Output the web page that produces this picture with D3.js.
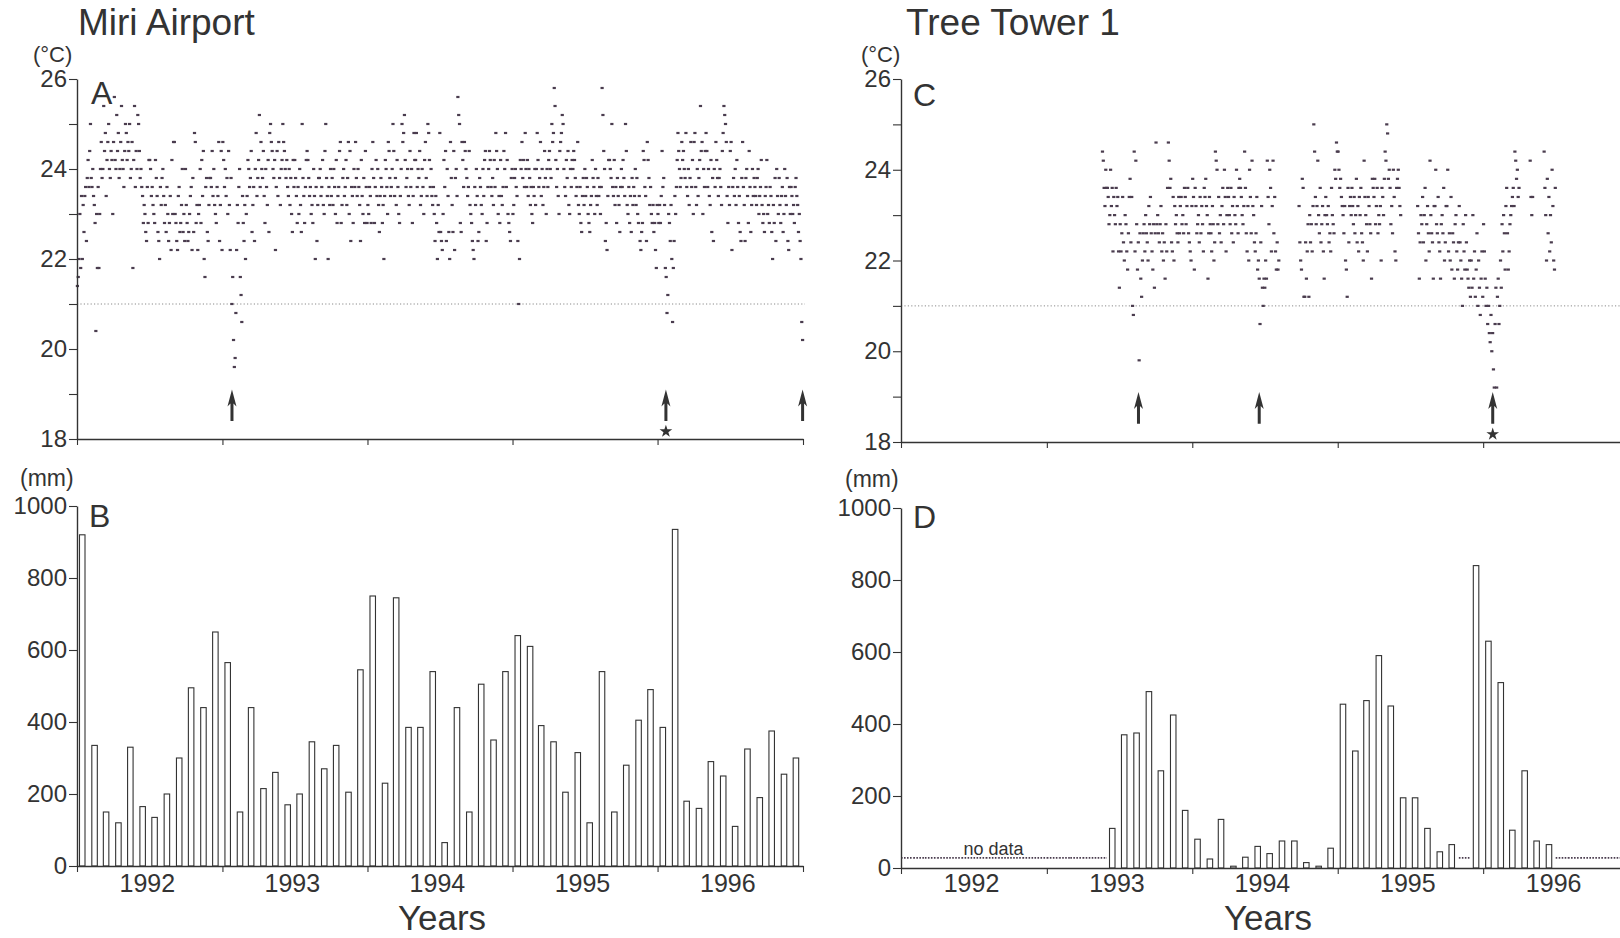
<!DOCTYPE html>
<html>
<head>
<meta charset="utf-8">
<script src="https://cdn.jsdelivr.net/npm/d3@7"></script>
<style>
  body { margin: 0; background: #ffffff; }
</style>
</head>
<body>
<script>
// COLORS and FONTS
var font = "'Liberation Sans', Arial, Helvetica, sans-serif";
var ink = "#333333";
var dotInk = "#4a3c4e";

// MIRI AIRPORT daily temperature, one list per month (every second day)
var airportTemp1992 = [
  [21.4, 21.6, 22.0, 23.0, 21.8, 23.4, 22.0, 23.2, 22.6, 23.4, 23.6, 22.4, 23.8, 24.2, 23.6],
  [24.4, 25.0, 23.8, 23.6, 24.0, 23.4, 23.2, 22.8, 20.4, 23.0, 21.8, 23.6, 21.8, 23.0, 24.0],
  [24.6, 23.8, 24.0, 25.4, 24.4, 24.8, 23.4, 24.2, 24.6, 25.0, 24.0, 23.8, 24.4, 24.2, 23.0],
  [24.6, 25.6, 24.2, 24.0, 25.2, 24.4, 24.8, 23.8, 24.0, 24.6, 25.4, 24.2, 24.0, 23.6, 24.4],
  [25.0, 24.8, 24.2, 24.6, 24.4, 25.0, 23.8, 24.0, 24.6, 21.8, 24.2, 25.4, 23.6, 24.4, 24.0],
  [25.2, 25.0, 24.4, 23.8, 24.0, 23.6, 23.4, 22.8, 23.2, 23.0, 22.6, 22.4, 23.6, 22.8, 24.2],
  [24.2, 24.0, 23.4, 23.6, 23.2, 23.0, 22.8, 24.2, 23.8, 23.4, 22.6, 22.4, 22.0, 23.6, 23.2],
  [23.8, 24.0, 23.4, 22.8, 23.2, 22.6, 23.6, 23.0, 22.4, 22.8, 23.4, 22.2, 24.2, 23.0, 24.6],
  [24.6, 23.0, 22.8, 22.4, 22.2, 23.4, 23.6, 22.6, 22.8, 23.2, 24.0, 22.6, 23.0, 22.4, 24.0],
  [23.2, 22.8, 22.4, 22.6, 23.0, 23.4, 23.6, 22.2, 23.8, 22.6, 24.8, 24.6, 22.8, 23.2, 22.2],
  [23.0, 23.2, 24.0, 22.8, 24.2, 23.4, 24.4, 22.0, 21.6, 23.6, 23.8, 22.6, 22.4, 23.2, 23.8],
  [23.8, 23.6, 24.4, 23.4, 24.0, 23.2, 23.0, 22.8, 23.6, 23.4, 24.6, 22.4, 23.2, 24.4, 22.2]
];
var airportTemp1993 = [
  [24.6, 24.2, 23.6, 24.0, 23.4, 23.8, 23.0, 24.4, 23.2, 22.2, 23.8, 21.0, 21.6, 20.2, 19.6],
  [19.8, 20.8, 22.2, 23.2, 22.8, 23.6, 24.0, 21.6, 21.2, 20.6, 23.4, 22.8, 22.4, 23.2, 22.0],
  [23.0, 23.4, 24.2, 24.0, 23.6, 23.8, 24.4, 22.6, 23.2, 23.6, 22.4, 24.0, 24.8, 23.4, 23.8],
  [24.2, 25.2, 23.6, 24.6, 24.0, 23.8, 24.4, 23.4, 22.8, 24.0, 23.6, 23.2, 24.2, 22.6, 24.8],
  [25.0, 24.6, 24.4, 24.0, 23.8, 24.2, 22.2, 23.6, 24.4, 23.4, 24.6, 23.8, 23.2, 24.0, 24.2],
  [25.0, 24.6, 24.4, 24.0, 23.8, 24.2, 23.6, 23.4, 24.0, 23.2, 23.8, 23.0, 22.6, 24.2, 23.6],
  [24.2, 23.8, 23.4, 22.8, 23.6, 23.0, 24.0, 23.2, 22.6, 25.0, 23.8, 23.4, 22.8, 23.6, 24.2],
  [24.4, 24.2, 23.8, 23.4, 23.6, 23.0, 23.2, 22.8, 24.0, 23.4, 22.0, 23.6, 22.4, 23.2, 23.8],
  [23.8, 24.0, 23.4, 23.6, 24.2, 23.2, 23.0, 24.4, 25.0, 23.8, 23.4, 22.0, 23.6, 23.2, 24.0],
  [23.4, 23.8, 23.2, 24.0, 23.6, 23.0, 24.2, 22.8, 23.4, 23.6, 24.4, 24.6, 22.8, 23.2, 23.8],
  [24.0, 23.4, 23.6, 24.2, 23.2, 23.8, 24.6, 23.0, 24.4, 22.4, 23.6, 23.4, 22.8, 24.0, 23.6],
  [24.6, 23.8, 23.4, 24.0, 23.6, 23.2, 22.4, 24.2, 23.4, 23.0, 23.8, 22.8, 24.4, 23.6, 22.8]
];
var airportTemp1994 = [
  [23.2, 23.0, 23.6, 23.4, 22.8, 24.0, 24.6, 23.8, 22.8, 23.6, 24.2, 23.4, 24.0, 23.2, 22.6],
  [23.4, 23.8, 23.6, 22.8, 23.2, 22.0, 23.4, 24.2, 24.0, 23.6, 23.0, 24.6, 24.4, 23.8, 23.4],
  [23.6, 24.0, 25.0, 24.4, 23.4, 23.8, 23.2, 24.2, 23.6, 23.0, 22.8, 23.4, 24.0, 25.0, 24.6],
  [24.8, 25.2, 24.2, 23.6, 23.8, 24.0, 23.4, 23.2, 24.4, 23.6, 24.0, 22.8, 23.4, 24.8, 24.2],
  [24.2, 24.8, 23.6, 24.0, 23.8, 24.4, 23.2, 23.4, 24.0, 23.6, 23.0, 24.2, 24.6, 23.8, 23.4],
  [25.0, 24.8, 24.2, 23.6, 24.0, 23.4, 23.2, 23.6, 23.0, 22.4, 23.4, 22.8, 22.0, 23.2, 22.6],
  [24.8, 22.6, 22.4, 22.2, 23.0, 24.2, 23.6, 24.4, 22.4, 24.0, 23.4, 22.6, 22.0, 24.6, 23.8],
  [23.2, 22.6, 24.4, 22.2, 23.8, 24.0, 23.4, 25.6, 25.2, 25.0, 22.8, 22.6, 24.6, 24.2, 23.6],
  [24.6, 24.4, 24.0, 23.8, 23.4, 23.6, 24.4, 23.2, 23.0, 22.8, 22.4, 22.2, 22.0, 23.6, 23.2],
  [24.0, 23.4, 22.4, 22.6, 23.8, 23.6, 23.2, 23.0, 24.0, 23.4, 24.2, 24.4, 22.4, 22.8, 23.6],
  [24.0, 24.4, 24.2, 23.6, 23.4, 23.8, 23.2, 24.2, 23.6, 24.8, 24.4, 24.0, 23.0, 23.4, 22.8],
  [24.2, 23.4, 23.2, 23.6, 24.4, 24.0, 24.8, 23.6, 24.2, 23.0, 22.8, 22.6, 22.4, 23.8, 24.0]
];
var airportTemp1995 = [
  [23.0, 23.2, 23.8, 24.0, 23.6, 23.4, 22.4, 21.0, 22.0, 24.2, 24.0, 24.6, 23.8, 24.2, 23.6],
  [24.8, 24.0, 23.6, 24.2, 23.4, 24.0, 23.8, 23.2, 23.6, 23.0, 22.8, 23.6, 23.4, 24.0, 23.2],
  [24.0, 24.8, 24.2, 23.6, 23.8, 24.6, 23.4, 24.0, 23.2, 23.6, 24.4, 23.8, 23.0, 24.0, 23.6],
  [24.2, 24.4, 24.0, 23.8, 25.0, 24.6, 24.8, 25.8, 25.4, 24.2, 23.6, 24.0, 23.4, 23.0, 24.4],
  [24.6, 24.8, 25.2, 25.0, 24.0, 23.6, 23.4, 24.2, 23.8, 24.4, 23.2, 23.0, 24.0, 23.6, 24.2],
  [24.0, 24.4, 24.2, 23.8, 23.4, 23.6, 24.6, 23.2, 23.0, 23.6, 22.8, 22.6, 23.4, 23.8, 23.2],
  [24.0, 23.4, 23.8, 23.6, 23.0, 22.8, 22.6, 23.2, 23.4, 24.2, 23.8, 23.6, 23.0, 24.0, 23.4],
  [23.2, 23.8, 23.4, 23.6, 23.0, 23.6, 25.8, 25.2, 24.4, 24.0, 22.4, 22.8, 22.2, 23.4, 24.2],
  [24.2, 24.0, 23.8, 25.0, 23.6, 23.4, 24.2, 23.2, 23.6, 22.8, 23.8, 23.4, 23.2, 22.6, 23.6],
  [24.0, 23.6, 24.2, 23.8, 23.4, 25.0, 24.4, 23.2, 23.0, 23.6, 22.8, 23.4, 22.6, 23.8, 23.2],
  [23.6, 23.4, 24.0, 23.2, 23.8, 23.0, 22.8, 23.4, 22.4, 22.2, 22.6, 22.8, 24.4, 24.2, 23.6],
  [23.4, 22.4, 24.6, 24.2, 23.8, 23.2, 23.6, 23.0, 22.8, 23.2, 22.6, 22.8, 22.2, 21.8, 23.2]
];
var airportTemp1996 = [
  [23.0, 22.8, 23.2, 22.8, 23.4, 24.4, 23.6, 23.8, 23.2, 21.8, 21.6, 20.8, 21.2, 23.0, 22.8],
  [22.4, 23.2, 22.0, 20.6, 21.8, 22.4, 23.4, 23.0, 23.6, 24.2, 24.8, 24.4, 24.0, 23.6, 23.8],
  [24.6, 24.2, 24.4, 24.0, 23.8, 24.8, 23.6, 23.4, 24.0, 23.2, 23.8, 24.6, 23.6, 24.2, 23.0],
  [24.6, 24.8, 23.6, 23.2, 24.0, 23.4, 23.8, 24.2, 25.4, 24.4, 24.6, 23.0, 24.0, 23.6, 24.4],
  [24.8, 24.4, 23.6, 24.0, 23.4, 23.2, 24.2, 22.6, 23.8, 22.4, 24.0, 23.6, 24.6, 24.2, 23.8],
  [23.4, 23.8, 24.0, 23.6, 23.2, 24.4, 24.8, 25.4, 25.2, 25.0, 24.6, 23.4, 22.8, 23.6, 23.2],
  [24.4, 24.6, 22.2, 23.6, 23.8, 23.4, 24.0, 23.2, 24.2, 23.6, 22.8, 23.4, 22.6, 22.4, 23.8],
  [24.6, 23.6, 23.2, 22.4, 23.8, 24.0, 23.4, 22.8, 24.4, 23.6, 22.6, 23.2, 24.0, 23.4, 23.8],
  [23.6, 23.4, 23.2, 23.8, 24.0, 23.0, 23.4, 23.6, 24.2, 23.2, 22.8, 23.0, 22.6, 23.4, 23.6],
  [24.2, 23.0, 23.2, 22.8, 23.6, 23.4, 22.6, 22.0, 23.2, 22.8, 23.8, 22.4, 24.0, 23.4, 23.0],
  [23.8, 23.2, 22.8, 23.4, 23.6, 22.6, 23.0, 24.0, 23.4, 23.2, 23.8, 22.4, 22.2, 23.6, 23.0],
  [23.6, 23.4, 23.0, 23.2, 22.8, 23.6, 23.8, 23.4, 23.2, 22.6, 23.0, 22.4, 22.0, 20.6, 20.2]
];

// TREE TOWER 1 daily temperature (null = no record)
var towerTemp1993 = [
  [], [], [], [],
  [null, null, null, null, null, null, null, null, null, 24.4, 24.2, 23.6, 23.2, 24.0, 23.6],
  [23.6, 23.4, 22.8, 23.0, 24.0, 23.2, 23.6, 22.2, 23.4, 23.0, 22.8, 23.6, 23.2, 23.4, 22.2],
  [21.4, 22.8, 22.2, 22.6, 23.4, 22.4, 22.0, 23.0, 22.8, 22.2, 21.8, 22.6, 23.4, 23.8, 22.4],
  [23.4, 21.0, 20.8, 24.4, 22.2, 24.2, 22.8, 21.8, 22.4, 19.8, 22.6, 21.6, 21.2, 22.0, 22.6],
  [22.8, 22.2, 23.0, 22.6, 22.4, 22.0, 23.2, 22.8, 23.4, 22.6, 22.2, 21.8, 22.8, 21.4, 22.6],
  [24.6, 22.8, 23.0, 22.6, 22.4, 22.8, 23.2, 22.2, 22.6, 22.0, 22.4, 21.6, 22.8, 22.2, 23.6],
  [24.6, 24.2, 23.6, 23.8, 22.4, 22.2, 23.4, 22.0, 23.2, 22.8, 23.0, 22.6, 22.4, 23.4, 22.6],
  [23.2, 23.4, 22.8, 23.0, 22.6, 23.6, 23.4, 22.8, 23.2, 23.6, 22.6, 22.4, 22.2, 22.0, 23.2]
];
var towerTemp1994 = [
  [23.8, 23.4, 21.8, 23.6, 23.2, 22.6, 22.8, 23.0, 22.4, 23.4, 22.6, 23.2, 22.8, 22.2, 23.6],
  [23.4, 23.8, 23.2, 23.0, 21.6, 22.6, 23.4, 22.8, 22.6, 22.2, 23.2, 22.8, 22.0, 22.4, 24.4],
  [24.2, 24.0, 22.8, 23.4, 22.6, 23.0, 22.4, 23.2, 23.6, 22.8, 24.0, 23.4, 22.2, 23.0, 23.6],
  [23.4, 23.0, 22.8, 23.6, 22.6, 23.2, 22.4, 23.4, 23.0, 22.8, 24.0, 23.2, 22.6, 23.6, 23.8],
  [23.6, 23.4, 23.0, 22.8, 23.2, 24.4, 23.6, 22.6, 22.2, 23.2, 22.0, 24.0, 23.4, 22.6, 24.2],
  [23.2, 23.0, 22.4, 22.2, 22.6, 23.4, 21.8, 22.0, 21.6, 20.6, 22.4, 23.2, 21.4, 21.0, 21.6],
  [21.4, 22.0, 21.6, 24.2, 23.4, 22.8, 24.0, 23.6, 22.2, 23.2, 24.2, 22.6, 23.4, 22.2, 21.8],
  [22.4, 21.8, 22.0, null, null, null, null, null, null, null, null, null, null, null, null],
  [null, null, null, null, null, null, null, null, null, null, null, null, 23.2, 22.4, 22.0],
  [21.8, 23.8, 23.6, 21.2, 21.2, 22.4, 21.6, 22.2, 22.8, 21.2, 23.0, 22.4, 22.8, 22.2, 23.2],
  [25.0, 24.4, 23.4, 22.8, 23.2, 24.2, 23.0, 22.6, 23.6, 22.4, 22.8, 23.2, 22.2, 21.6, 23.0],
  [23.4, 23.0, 22.8, 23.2, 22.4, 22.6, 22.2, 23.6, 23.0, 22.8, 22.6, 24.0, 23.8, 24.6, 24.4]
];
var towerTemp1995 = [
  [24.4, 24.0, 23.6, 23.8, 23.4, 23.2, 23.0, 22.6, 23.2, 22.0, 21.8, 21.2, 23.6, 22.4, 23.2],
  [23.4, 23.0, 23.6, 23.2, 22.8, 23.4, 22.6, 23.0, 23.8, 22.4, 23.2, 22.2, 23.4, 23.0, 23.6],
  [22.6, 22.4, 22.0, 24.2, 23.4, 23.0, 22.8, 22.2, 23.4, 23.2, 22.8, 22.6, 21.6, 23.8, 23.6],
  [23.4, 23.8, 22.8, 23.2, 23.6, 22.6, 23.0, 22.8, 23.2, 22.0, 23.6, 23.4, 23.0, 23.8, 24.4],
  [24.2, 25.0, 24.8, 23.8, 24.0, 23.6, 22.8, 23.2, 22.6, 24.0, 23.4, 22.2, 22.0, 23.6, 23.8],
  [24.0, 23.6, 23.2, 23.0, null, null, null, null, null, null, null, null, null, null, null],
  [null, null, null, null, null, null, null, null, null, 23.2, 22.6, 21.6, 22.4, 23.0, 22.8],
  [23.4, 22.4, 23.0, 23.6, 22.0, 22.8, 23.2, 22.6, 22.2, 24.2, 23.0, 22.6, 22.4, 21.6, 23.2],
  [23.2, 24.0, 22.8, 22.6, 23.4, 22.4, 22.2, 21.6, 22.8, 23.0, 22.6, 23.6, 22.0, 22.4, 23.2],
  [23.2, 24.0, 22.2, 22.6, 22.0, 23.4, 21.8, 22.6, 22.4, 21.6, 22.8, 23.0, 22.2, 21.8, 22.4],
  [23.2, 22.4, 22.0, 21.6, 21.0, 22.8, 22.2, 21.8, 23.0, 22.4, 21.8, 21.6, 21.4, 22.0, 21.2],
  [22.0, 21.4, 23.0, 21.6, 22.2, 21.2, 21.8, 22.6, 21.0, 22.0, 21.4, 20.8, 21.6, 22.2, 21.2]
];
var towerTemp1996 = [
  [22.8, 22.2, 21.6, 21.0, 21.4, 20.6, 21.0, 20.4, 20.2, 20.8, 20.0, 20.4, 19.6, 19.2, 20.6],
  [21.4, 19.2, 21.2, 21.6, 20.6, 21.0, 22.0, 21.4, 22.8, 22.2, 23.0, 22.6, 21.8, 23.2, 23.6],
  [22.6, 21.8, 22.2, 22.8, 23.0, 23.2, 23.4, 23.6, 23.2, 24.4, 24.2, 23.8, 24.0, 23.4, 23.6],
  [null, null, null, null, null, null, null, null, null, null, null, null, null, 24.2, 23.4],
  [23.0, 23.4, null, null, null, null, null, null, null, null, null, null, null, null, null],
  [24.4, 23.6, 23.0, 22.0, 23.8, 22.6, 23.4, 22.2, 23.0, 22.4, 24.0, 23.2, 22.0, 21.8, 23.6],
  [], [], [], [], [], []
];

// MONTHLY RAINFALL (mm), Jan 1992 - Dec 1996
var airportRain = [
  920, 335, 150, 120, 330, 165, 135, 200, 300, 495, 440, 650,
  565, 150, 440, 215, 260, 170, 200, 345, 270, 335, 205, 545,
  750, 230, 745, 385, 385, 540, 65, 440, 150, 505, 350, 540,
  640, 610, 390, 345, 205, 315, 120, 540, 150, 280, 405, 490,
  385, 935, 180, 160, 290, 250, 110, 325, 190, 375, 255, 300
];
var towerRain = [
  null, null, null, null, null, null, null, null, null, null, null, null,
  null, null, null, null, null, 110, 370, 375, 490, 270, 425, 160,
  80, 25, 135, 5, 30, 60, 40, 75, 75, 15, 5, 55,
  455, 325, 465, 590, 450, 195, 195, 110, 45, 65, null, 840,
  630, 515, 105, 270, 75, 65, null, null, null, null, null, null
];

// AXES and MARKERS
var years = [1992, 1993, 1994, 1995, 1996];
var yearLabels = ["1992", "1993", "1994", "1995", "1996"];
var tempTicks = [18, 19, 20, 21, 22, 23, 24, 25, 26];
var rainTicks = [0, 200, 400, 600, 800, 1000];
var parse = d3.timeParse("%Y-%m-%d");
var airportArrows = ["1993-01-25", "1996-01-22", "1996-12-31"];
var towerArrows = ["1993-08-19", "1994-06-18", "1996-01-25"];

var svg = d3.select("body").append("svg")
  .attr("width", 1620)
  .attr("height", 938)
  .style("font-family", font);

var start = new Date(1992, 0, 1), end = new Date(1997, 0, 1);
var xA = d3.scaleTime().domain([start, end]).range([77, 803]);
var xC = d3.scaleTime().domain([start, end]).range([901, 1629]);
var yA = d3.scaleLinear().domain([18, 26]).range([439, 79]);
var yC = d3.scaleLinear().domain([18, 26]).range([442, 79]);
var yB = d3.scaleLinear().domain([0, 1000]).range([866, 506]);
var yD = d3.scaleLinear().domain([0, 1000]).range([868, 508]);

// spread every month's values evenly over that month
function monthPoints(year, months) {
  var pts = [];
  months.forEach(function(vals, m) {
    var a = new Date(year, m, 1), b = new Date(year, m + 1, 1);
    vals.forEach(function(v, i) {
      if (v == null) return;
      pts.push({date: new Date(+a + (b - a) * (i + 0.5) / vals.length), value: v});
    });
  });
  return pts;
}

function styleAxis(g, size) {
  g.attr("font-family", font).attr("font-size", size);
  g.select(".domain").attr("stroke", ink).attr("stroke-width", 1.4);
  g.selectAll(".tick line").attr("stroke", ink).attr("stroke-width", 1.1);
  g.selectAll(".tick text").attr("fill", ink);
}

function xAxis(x, y0) {
  svg.append("g")
    .attr("transform", `translate(0, ${y0})`)
    .call(d3.axisBottom(x)
      .tickValues(years.concat([1997]).map(function(y) { return new Date(y, 0, 1); }))
      .tickSize(6).tickSizeOuter(0).tickFormat(""))
    .call(styleAxis, 24);
}

function yearText(x, y0) {
  svg.append("g").selectAll("text")
    .data(years)
    .join("text")
    .attr("x", function(d) { return x(new Date(d, 6, 1)) - 2; })
    .attr("y", y0)
    .attr("text-anchor", "middle")
    .attr("font-size", 25)
    .attr("fill", ink)
    .text(function(d, i) { return yearLabels[i]; });
}

function arrow(g, ax, yTip, yTail) {
  g.append("path")
    .attr("d", `M${ax},${yTip} L${ax + 4.5},${yTip + 17} L${ax + 1.5},${yTip + 14} L${ax + 1.5},${yTail}` +
      ` L${ax - 1.5},${yTail} L${ax - 1.5},${yTip + 14} L${ax - 4.5},${yTip + 17} Z`)
    .attr("fill", ink);
}

function tempPanel(x, y, data, firstYear, arrows, starAt) {
  var g = svg.append("g");
  var pts = [];
  data.forEach(function(months, k) { pts = pts.concat(monthPoints(firstYear + k, months)); });

  g.append("line")
    .attr("x1", x.range()[0]).attr("x2", x.range()[1] + 2)
    .attr("y1", y(21)).attr("y2", y(21))
    .attr("stroke", "#8a8a8a").attr("stroke-width", 1)
    .attr("stroke-dasharray", "1.2,2.2");

  g.selectAll("rect")
    .data(pts)
    .join("rect")
    .attr("x", function(d) { return x(d.date) - 1.6; })
    .attr("y", function(d) { return y(d.value) - 1.1; })
    .attr("width", 3.2)
    .attr("height", 2.2)
    .attr("fill", dotInk);

  arrows.forEach(function(a, i) {
    var ax = x(parse(a));
    arrow(g, ax, y(19.1), y(18.4));
    if (i === starAt) {
      g.append("path")
        .attr("transform", `translate(${ax}, ${y(18.17)})`)
        .attr("d", d3.symbol(d3.symbolStar).size(50)())
        .attr("fill", ink);
    }
  });

  svg.append("g")
    .attr("transform", `translate(${x.range()[0]}, 0)`)
    .call(d3.axisLeft(y).tickValues(tempTicks).tickSize(8).tickSizeOuter(0).tickPadding(2)
      .tickFormat(function(d) { return d % 2 === 0 ? d : ""; }))
    .call(styleAxis, 24);
  xAxis(x, y(18));
}

function rainPanel(x, y, values) {
  var g = svg.append("g");
  var bars = values.map(function(v, k) { return {k: k, v: v}; });

  g.selectAll("rect")
    .data(bars.filter(function(d) { return d.v != null; }))
    .join("rect")
    .attr("x", function(d) { return x(new Date(1992, d.k, 1)) + 2.5; })
    .attr("y", function(d) { return y(d.v); })
    .attr("width", 5.5)
    .attr("height", function(d) { return y(0) - y(d.v); })
    .attr("fill", "#ffffff")
    .attr("stroke", ink)
    .attr("stroke-width", 1.1);

  // months without record
  g.selectAll("line")
    .data(bars.filter(function(d) { return d.v == null; }))
    .join("line")
    .attr("x1", function(d) { return x(new Date(1992, d.k, 1)); })
    .attr("x2", function(d) { return x(new Date(1992, d.k + 1, 1)); })
    .attr("y1", y(28)).attr("y2", y(28))
    .attr("stroke", dotInk).attr("stroke-width", 1.6)
    .attr("stroke-dasharray", "1.6,1.4");

  svg.append("g")
    .attr("transform", `translate(${x.range()[0]}, 0)`)
    .call(d3.axisLeft(y).tickValues(rainTicks).tickSize(8).tickSizeOuter(0).tickPadding(2)
      .tickFormat(d3.format("d")))
    .call(styleAxis, 24);
  xAxis(x, y(0));
}

function label(x, y, txt, size, anchor) {
  svg.append("text")
    .attr("x", x).attr("y", y)
    .attr("text-anchor", anchor || "start")
    .attr("font-size", size)
    .attr("fill", ink)
    .text(txt);
}

// MIRI AIRPORT
tempPanel(xA, yA, [airportTemp1992, airportTemp1993, airportTemp1994, airportTemp1995, airportTemp1996], 1992, airportArrows, 1);
rainPanel(xA, yB, airportRain);
yearText(xA, 892);
label(78, 35, "Miri Airport", 37);
label(33, 62, "(°C)", 22);
label(91, 104, "A", 32);
label(20, 486, "(mm)", 23);
label(89, 527, "B", 32);
label(442, 930, "Years", 35, "middle");

// TREE TOWER 1
tempPanel(xC, yC, [towerTemp1993, towerTemp1994, towerTemp1995, towerTemp1996], 1993, towerArrows, 2);
rainPanel(xC, yD, towerRain);
yearText(xC, 892);
label(906, 35, "Tree Tower 1", 37);
label(861, 62, "(°C)", 22);
label(913, 106, "C", 32);
label(845, 487, "(mm)", 23);
label(913, 528, "D", 32);
label(1268, 930, "Years", 35, "middle");
label(xC(parse("1992-08-20")), yD(28) - 3, "no data", 18, "middle");
</script>
</body>
</html>
